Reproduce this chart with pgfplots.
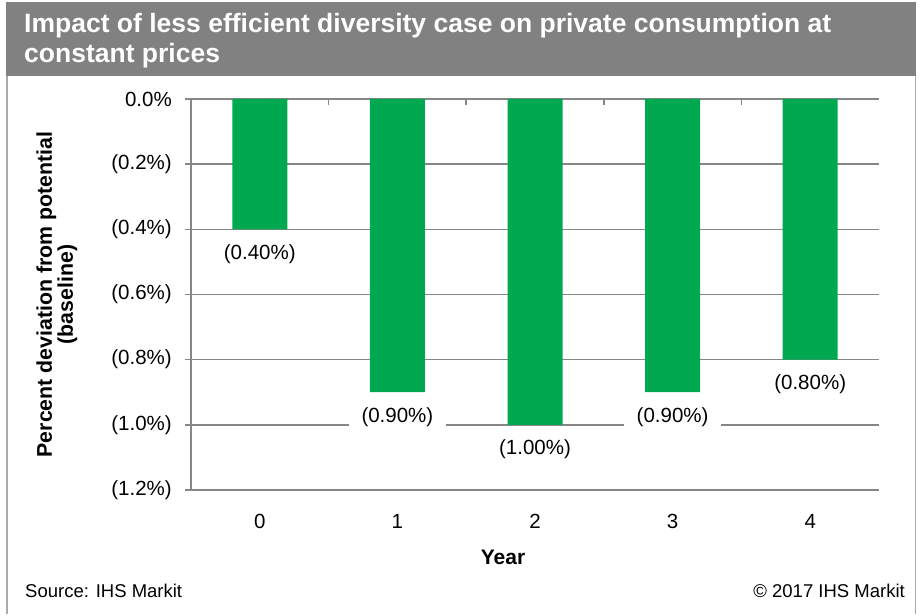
\documentclass[border=0pt]{standalone}
\usepackage{pgfplots}
\pgfplotsset{compat=1.18}
\usepackage{fontspec}
\setmainfont{Liberation Sans}
\definecolor{bargreen}{RGB}{0,169,79}
\definecolor{titlegray}{RGB}{128,129,128}
\definecolor{gridgray}{RGB}{134,134,134}
\definecolor{bordergray}{RGB}{170,170,170}
\begin{document}
\begin{tikzpicture}
\fill[white] (0,0) rectangle (920bp,614bp);
\fill[titlegray] (6bp,538bp) rectangle (916bp,612bp);
\draw[bordergray, line width=1.5bp] (6.75bp,0) -- (6.75bp,538bp);
\draw[bordergray, line width=1.5bp] (915.25bp,0) -- (915.25bp,538bp);
\node[anchor=base west, inner sep=0pt, text=white, font=\fontsize{26.5bp}{30bp}\selectfont\bfseries] at (24bp,581bp) {Impact of less efficient diversity case on private consumption at};
\node[anchor=base west, inner sep=0pt, text=white, font=\fontsize{26.5bp}{30bp}\selectfont\bfseries] at (24bp,551bp) {constant prices};
\node[anchor=base west, inner sep=0pt, font=\fontsize{18.5bp}{22bp}\selectfont] at (25bp,17bp) {Source: IHS Markit};
\node[anchor=base east, inner sep=0pt, font=\fontsize{18.5bp}{22bp}\selectfont] at (905bp,17bp) {© 2017 IHS Markit};
\begin{axis}[
  at={(191bp,124bp)}, anchor=south west,
  scale only axis, width=688bp, height=391bp,
  xmin=-0.5, xmax=4.5, ymin=-1.2, ymax=0,
  axis lines*=left,
  axis line style={gridgray, line width=1.6bp},
  ymajorgrids, grid style={gridgray, line width=1.6bp},
  tick align=outside, major tick length=6bp,
  tick style={gridgray, line width=1.6bp},
  major x tick style=transparent,
  xtick={0,1,2,3,4},
  xticklabels={0,1,2,3,4},
  ytick={-1.2,-1.0,-0.8,-0.6,-0.4,-0.2,0},
  yticklabels={(1.2\%),(1.0\%),(0.8\%),(0.6\%),(0.4\%),(0.2\%),0.0\%},
  ticklabel style={font=\fontsize{20.5bp}{24bp}\selectfont},
  xticklabel style={anchor=north, inner sep=0pt, yshift=-18bp},
  yticklabel style={anchor=east, inner sep=0pt, xshift=-13bp},
  xlabel={Year},
  xlabel style={at={(axis description cs:0.4535,-0.1713)}, anchor=center, inner sep=0pt, font=\fontsize{21bp}{24bp}\selectfont\bfseries},
  ylabel={Percent deviation from potential\\(baseline)},
  ylabel style={at={(axis description cs:-0.1948,0.5)}, anchor=center, rotate=0, align=center, inner sep=0pt, font=\fontsize{21.3bp}{21bp}\selectfont\bfseries},
  ybar, bar width=55bp, bar shift=0pt,
  point meta=explicit symbolic,
  nodes near coords,
  every node near coord/.append style={anchor=north, yshift=-12bp, fill=white, inner xsep=12.6bp, inner ysep=3bp, text=black, font=\fontsize{20.5bp}{24bp}\selectfont},
]
\addplot[fill=bargreen, draw=none] coordinates {
  (0,-0.40) [(0.40\%)]
  (1,-0.90) [(0.90\%)]
  (2,-1.00) [(1.00\%)]
  (3,-0.90) [(0.90\%)]
  (4,-0.80) [(0.80\%)]
};
\pgfplotsinvokeforeach{0.5,1.5,2.5,3.5}{
  \draw[gridgray, line width=1.6bp] (axis cs:#1,0) -- ([yshift=-6bp]axis cs:#1,0);
}
\end{axis}
\end{tikzpicture}
\end{document}
